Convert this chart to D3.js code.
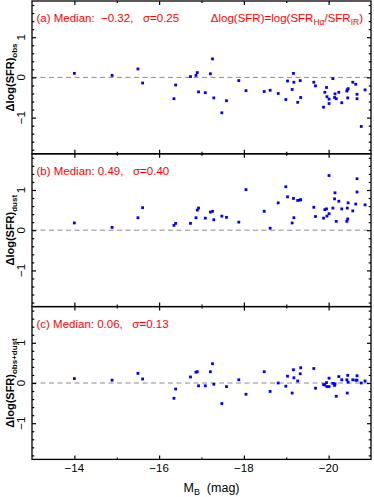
<!DOCTYPE html>
<html>
<head>
<meta charset="utf-8">
<script src="https://cdn.jsdelivr.net/npm/d3@7"></script>
<style>
  body { margin: 0; background: #fff; }
  text { font-family: "Liberation Sans", Arial, sans-serif; }
</style>
</head>
<body>
<svg id="chart" width="374" height="497"></svg>
<script>
// absolute B magnitude of each galaxy (same order in all panels)
var mB = [-14.0, -14.89, -15.5, -15.61, -16.35, -16.39, -16.74, -16.87, -16.9, -16.93,
    -17.09, -17.21, -17.26, -17.29, -17.48, -17.59, -17.88, -18.05, -18.48, -18.62,
    -18.81, -18.99, -19.03, -19.14, -19.17, -19.18, -19.27, -19.33, -19.34, -19.65,
    -19.69, -19.88, -19.91, -19.95, -19.96, -20.01, -20.01, -20.10, -20.14, -20.15,
    -20.18, -20.24, -20.31, -20.43, -20.44, -20.45, -20.46, -20.57, -20.64, -20.67,
    -20.67, -20.77, -20.86];

var dObs = [0.10, 0.05, 0.21, -0.14, -0.53, -0.19, 0.02, 0.05, 0.12, -0.36,
    -0.38, 0.09, 0.46, -0.51, -0.88, -0.58, -0.08, -0.33, -0.35, -0.32,
    -0.40, -0.55, -0.09, -0.30, 0.10, -0.12, -0.62, -0.08, -0.50, -0.12,
    -0.21, -0.74, -0.37, -0.25, -0.48, -0.54, -0.65, -0.03, -0.50, -0.41,
    -0.53, -0.37, -0.63, -0.34, -0.31, -0.51, -0.28, -0.12, -0.17, -0.42,
    -0.53, -1.22, -0.31];

var dDust = [0.18, 0.07, 0.31, 0.56, 0.12, 0.17, 0.17, 0.31, 0.50, 0.55,
    0.30, 0.45, 0.47, 0.26, 0.35, 0.32, 0.20, 1.01, 0.47, 0.05,
    0.68, 1.08, 0.83, 0.18, 0.79, 0.31, 0.74, 0.75, 0.76, 0.57,
    0.34, 0.30, 0.51, 0.53, 0.35, 1.36, 0.41, 0.55, 0.78, 0.93,
    0.22, 0.72, 0.53, 0.22, 0.55, 0.28, 0.68, 0.48, 0.65, 1.28,
    0.95, null, 0.63];

var dObsDust = [0.11, 0.07, 0.24, 0.10, -0.38, -0.15, 0.15, 0.27, 0.28, -0.07,
    -0.07, 0.28, 0.48, -0.03, -0.51, -0.09, 0.08, -0.28, 0.28, -0.21,
    0.0, -0.08, 0.17, -0.25, 0.33, 0.13, 0.05, 0.23, 0.38, 0.36,
    -0.13, -0.04, -0.05, 0.01, -0.09, -0.09, 0.12, -0.01, -0.06, -0.02,
    -0.33, 0.16, 0.08, 0.08, -0.25, 0.19, 0.02, 0.08, 0.07, 0.18,
    0.07, 0.0, 0.05];

var nb = "\u00a0";
var panelLabels = [
    "(a) Median:" + nb + " \u22120.32," + nb + nb + " \u03c3=0.25",
    "(b) Median: 0.49," + nb + nb + " \u03c3=0.40",
    "(c) Median: 0.06," + nb + nb + " \u03c3=0.13"];
var panelSubs = ["obs", "dust", "obs+dust"];
var xMajor = [-14, -16, -18, -20];
var xMinor = [-15, -17, -19];
var yMajor = [-1, 0, 1];

var panels = [dObs, dDust, dObsDust];

var svg = d3.select("#chart");
var left = 32, right = 371, top0 = 1, ph = 152.8;
var width = right - left;

var x = d3.scaleLinear().domain([-13, -21]).range([0, width]);
var y = d3.scaleLinear().domain([-1.9, 1.9]).range([ph, 0]);

var yMinor = d3.range(-18, 19, 2).map(function (v) { return v / 10; })
    .filter(function (v) { return Math.abs(v - Math.round(v)) > 0.01; });

function fmt(v) { return v < 0 ? "\u2212" + Math.abs(v) : "" + v; }

panels.forEach(function (vals, p) {
    var g = svg.append("g").attr("transform", "translate(" + left + "," + (top0 + p * ph) + ")");

    // zero line
    g.append("line")
        .attr("x1", 0).attr("x2", width)
        .attr("y1", y(0)).attr("y2", y(0))
        .attr("stroke", "#8c8c8c")
        .attr("stroke-width", 1)
        .attr("stroke-dasharray", "5,3.5");

    var pts = mB.map(function (m, i) { return { m: m, v: vals[i] }; })
        .filter(function (d) { return d.v != null; });

    g.append("g").selectAll("rect")
        .data(pts)
        .enter().append("rect")
        .attr("x", function (d) { return x(d.m) - 1.4; })
        .attr("y", function (d) { return y(d.v) - 1.4; })
        .attr("width", 2.8)
        .attr("height", 2.8)
        .attr("fill", "#0000ff");

    // inward ticks on all four sides
    var axes = [
        [d3.axisLeft(y).tickValues(yMajor).tickSize(-4), "0,0"],
        [d3.axisLeft(y).tickValues(yMinor).tickSize(-2.3), "0,0"],
        [d3.axisRight(y).tickValues(yMajor).tickSize(-4), width + ",0"],
        [d3.axisRight(y).tickValues(yMinor).tickSize(-2.3), width + ",0"],
        [d3.axisTop(x).tickValues(xMajor).tickSize(-4), "0,0"],
        [d3.axisTop(x).tickValues(xMinor).tickSize(-2), "0,0"],
        [d3.axisBottom(x).tickValues(xMajor).tickSize(-4), "0," + ph],
        [d3.axisBottom(x).tickValues(xMinor).tickSize(-2), "0," + ph]
    ];
    axes.forEach(function (a) {
        var ax = g.append("g").attr("transform", "translate(" + a[1] + ")")
            .call(a[0].tickFormat(""));
        ax.select(".domain").remove();
        ax.selectAll("line").attr("stroke", "#000").attr("stroke-width", 1.2);
    });

    g.append("rect")
        .attr("width", width).attr("height", ph)
        .attr("fill", "none")
        .attr("stroke", "#000")
        .attr("stroke-width", 1.3);

    // y tick labels, rotated
    g.selectAll("text.ytick")
        .data(yMajor)
        .enter().append("text")
        .attr("class", "ytick")
        .attr("transform", function (d) { return "translate(-7," + y(d) + ") rotate(-90)"; })
        .attr("text-anchor", "middle")
        .attr("font-size", 11.5)
        .text(fmt);

    // y title
    var yt = g.append("text")
        .attr("transform", "translate(-18," + (ph / 2) + ") rotate(-90)")
        .attr("text-anchor", "middle")
        .attr("font-size", 11)
        .attr("font-weight", "bold");
    yt.append("tspan").text("\u0394log(SFR)");
    yt.append("tspan").attr("font-size", 8).attr("dy", 3).text(panelSubs[p]);

    // panel annotation
    g.append("text")
        .attr("x", 4.5).attr("y", 21)
        .attr("fill", "#ff0000")
        .attr("font-size", 11.5)
        .text(panelLabels[p]);

    if (p === 0) {
        var rt = g.append("text")
            .attr("x", width - 8).attr("y", 21)
            .attr("text-anchor", "end")
            .attr("fill", "#ff0000")
            .attr("font-size", 11.5);
        rt.append("tspan").text("\u0394log(SFR)=log(SFR");
        rt.append("tspan").attr("font-size", 8.5).attr("dy", 3).text("H\u03b1");
        rt.append("tspan").attr("dy", -3).text("/SFR");
        rt.append("tspan").attr("font-size", 8.5).attr("dy", 3).text("IR");
        rt.append("tspan").attr("dy", -3).text(")");
    }

    if (p === 2) {
        g.selectAll("text.xtick")
            .data(xMajor)
            .enter().append("text")
            .attr("class", "xtick")
            .attr("x", function (d) { return x(d); })
            .attr("y", ph + 13)
            .attr("text-anchor", "middle")
            .attr("font-size", 11.5)
            .text(fmt);

        var xt = g.append("text")
            .attr("x", width / 2 + 10)
            .attr("y", ph + 33)
            .attr("text-anchor", "middle")
            .attr("font-size", 12.5);
        xt.append("tspan").text("M");
        xt.append("tspan").attr("font-size", 9).attr("dy", 3).text("B");
        xt.append("tspan").attr("dy", -3).text(nb + " (mag)");
    }
});
</script>
</body>
</html>
